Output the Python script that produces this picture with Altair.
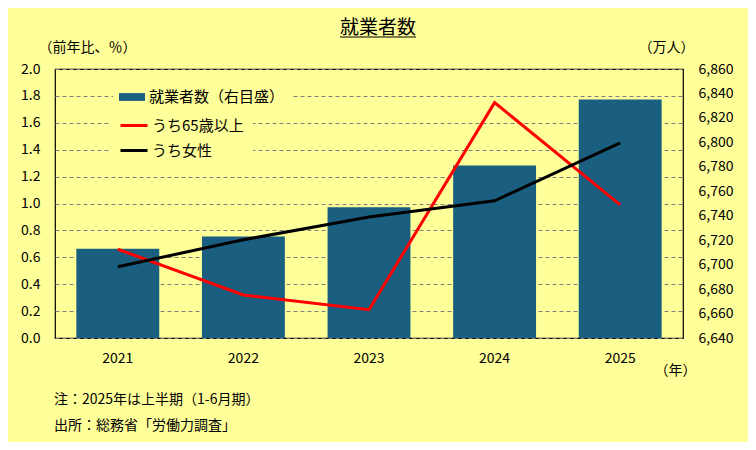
import altair as alt
import pandas as pd

# ---- data ----
years = ["2021", "2022", "2023", "2024", "2025"]
employed = [6713, 6723, 6747, 6781, 6835]        # 万人 (right axis)
elderly_growth = [0.66, 0.32, 0.21, 1.75, 0.99]  # 前年比 %
women_growth = [0.53, 0.73, 0.90, 1.02, 1.45]    # 前年比 %

S_BAR = "就業者数（右目盛）"
S_OLD = "うち65歳以上"
S_WOM = "うち女性"
bar_color = "#1A5F80"
line_colors = ["#FF0000", "#000000"]

left_ticks = [0.0, 0.2, 0.4, 0.6, 0.8, 1.0, 1.2, 1.4, 1.6, 1.8, 2.0]
right_ticks = [6640, 6660, 6680, 6700, 6720, 6740, 6760, 6780, 6800, 6820, 6840, 6860]

title_text = "就業者数"
left_unit = "（前年比、％）"
right_unit = "（万人）"
x_unit = "（年）"
notes = ["注：2025年は上半期（1-6月期）", "出所：総務省「労働力調査」"]

FONT = "Noto Sans CJK JP"
BG = "#FFFF99"

bar_df = pd.DataFrame({"year": years, "value": employed, "series": S_BAR})
line_df = pd.DataFrame({
    "year": years * 2,
    "value": elderly_growth + women_growth,
    "series": [S_OLD] * len(years) + [S_WOM] * len(years),
})

NB = "\u00a0"
fill_legend = alt.Legend(
    orient="none", legendX=58, legendY=9, title=None,
    symbolType="M-1,-0.3H1V0.3H-1Z", symbolSize=676, symbolStrokeWidth=0,
    labelFontSize=15, labelFont=FONT, labelColor="black", labelOffset=4,
    padding=6, fillColor=BG, zindex=3, labelExpr=f"datum.label + '{NB * 4}'",
)
stroke_legend = alt.Legend(
    orient="none", legendX=55, legendY=32.5, title=None,
    symbolType="stroke", symbolSize=729, symbolStrokeWidth=3,
    labelFontSize=15, labelFont=FONT, labelColor="black", labelOffset=3,
    padding=9, fillColor=BG, zindex=2, labelExpr=f"datum.label + '{NB * 11}'",
)

x_enc = alt.X(
    "year:N", sort=years,
    scale=alt.Scale(paddingInner=0.34, paddingOuter=0.17),
    axis=alt.Axis(
        title=x_unit, titleAngle=0, titleX=620, titleY=32, titleAlign="center",
        titleBaseline="middle", titleFontSize=14, titleFontWeight="normal",
        titleFont=FONT, titleColor="black",
        labelAngle=0, labelFontSize=14, labelFont=FONT, labelColor="black",
        labelPadding=13, ticks=False, tickSize=0, domain=False, grid=False,
    ),
)

bars = alt.Chart(bar_df).mark_bar().encode(
    x=x_enc,
    y=alt.Y(
        "value:Q",
        scale=alt.Scale(domain=[right_ticks[0], right_ticks[-1]], zero=False, nice=False),
        axis=alt.Axis(
            orient="right", values=right_ticks, format=",.0f", grid=False,
            ticks=False, tickSize=0, domain=False, labelPadding=15,
            labelFontSize=14, labelFont=FONT, labelColor="black",
            title=right_unit, titleAngle=0, titleX=-17, titleY=-22,
            titleAlign="center", titleBaseline="middle", titleFontSize=14,
            titleFontWeight="normal", titleFont=FONT, titleColor="black",
        ),
    ),
    y2=alt.datum(right_ticks[0]),
    fill=alt.Fill("series:N", scale=alt.Scale(domain=[S_BAR], range=[bar_color]),
                  legend=fill_legend),
)

lines = alt.Chart(line_df).mark_line(strokeWidth=3).encode(
    x=x_enc,
    y=alt.Y(
        "value:Q",
        scale=alt.Scale(domain=[left_ticks[0], left_ticks[-1]], nice=False),
        axis=alt.Axis(
            orient="left", values=left_ticks, format=".1f",
            grid=True, gridDash=[4, 3], gridColor="#7F7F7F", gridWidth=1,
            ticks=False, tickSize=0, domain=False, labelPadding=15,
            labelFontSize=14, labelFont=FONT, labelColor="black",
            title=left_unit, titleAngle=0, titleX=32, titleY=-22,
            titleAlign="center", titleBaseline="middle", titleFontSize=14,
            titleFontWeight="normal", titleFont=FONT, titleColor="black",
        ),
    ),
    stroke=alt.Stroke("series:N", scale=alt.Scale(domain=[S_OLD, S_WOM], range=line_colors),
                      legend=stroke_legend),
)

title_mark = alt.Chart(pd.DataFrame({"text": [title_text]})).mark_text(
    align="center", baseline="middle", fontSize=19, font=FONT, color="black"
).encode(text="text:N", x=alt.value(323), y=alt.value(-41))

underline = alt.Chart(alt.Data(values=[{}])).mark_rule(color="black", strokeWidth=1.2).encode(
    x=alt.value(285), x2=alt.value(361), y=alt.value(-32)
)

note1 = alt.Chart(pd.DataFrame({"text": [notes[0]]})).mark_text(
    align="left", baseline="middle", fontSize=14, font=FONT, color="black"
).encode(text="text:N", x=alt.value(-1), y=alt.value(331))
note2 = alt.Chart(pd.DataFrame({"text": [notes[1]]})).mark_text(
    align="left", baseline="middle", fontSize=14, font=FONT, color="black"
).encode(text="text:N", x=alt.value(-1), y=alt.value(357))

chart = alt.layer(bars, lines, title_mark, underline, note1, note2).resolve_scale(
    y="independent"
).properties(
    width=628, height=269,
    padding={"left": 47, "top": 61, "right": 65, "bottom": 104},
    autosize=alt.AutoSizeParams(type="none"),
    background=BG,
).configure_view(stroke="black", strokeWidth=1.2)

chart.save("out.html", embed_options={"renderer": "svg", "actions": False})
